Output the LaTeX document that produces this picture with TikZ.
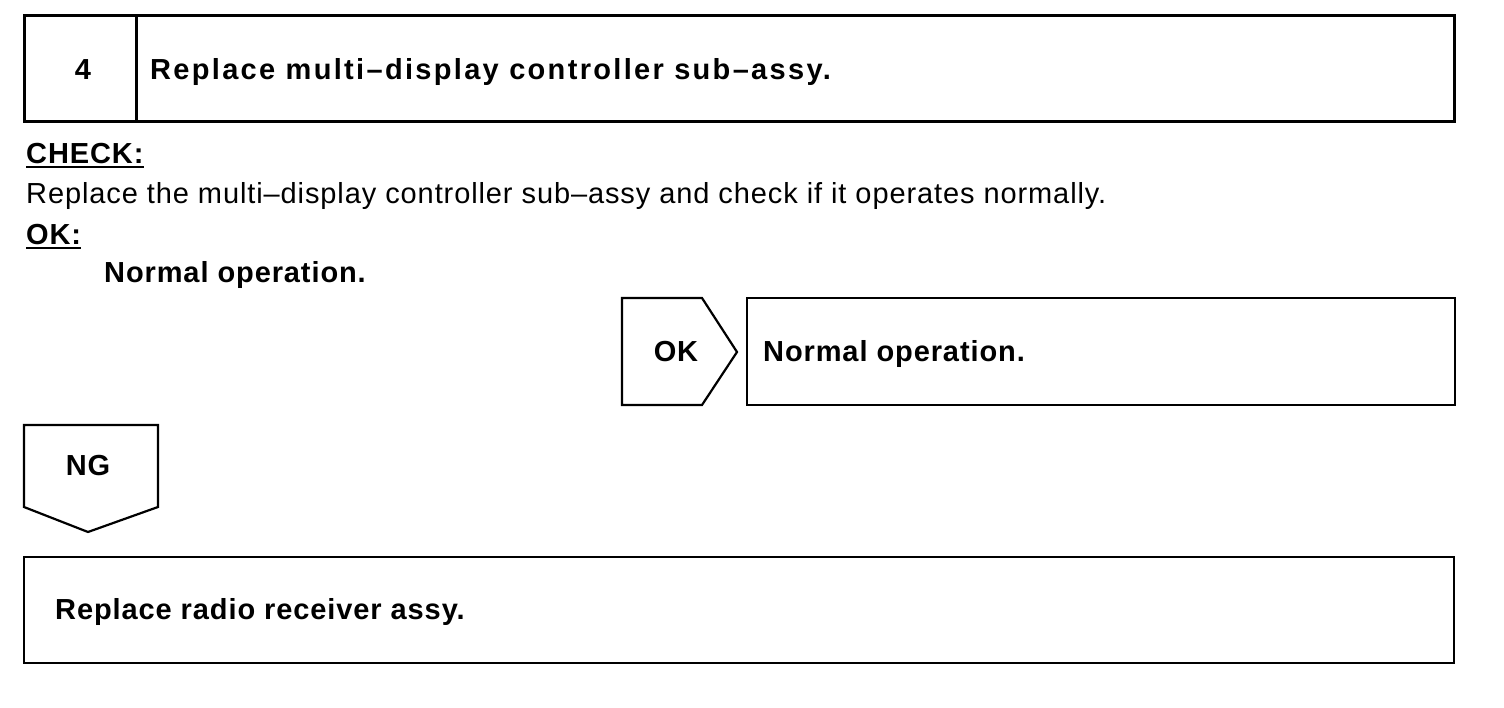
\documentclass[tikz,border=0pt]{standalone}
\usepackage{fontspec}
\setmainfont{Liberation Sans}[LetterSpace=3.1]
\newfontfamily\titlefont{Liberation Sans}[LetterSpace=8]

\begin{document}
\begin{tikzpicture}[x=1pt,y=-1pt,
  heavy/.style={line width=3pt},
  frame/.style={line width=2.2pt, line join=miter},
  head/.style={inner sep=0pt,anchor=base west,font=\fontsize{29}{32}\selectfont\bfseries},
  plain/.style={inner sep=0pt,anchor=base west,font=\fontsize{29}{32}\selectfont},
  tag/.style={inner sep=0pt,anchor=base,font=\fontsize{29}{32}\selectfont\bfseries},
  uline/.style={line width=2pt}]
\useasboundingbox (0,0) rectangle (1504,708);
% the step header
\draw[heavy] (24,16) rectangle (1454,122);
\draw[heavy] (136,16) -- (136,122);
\node[tag] (num) at (83,80) {4};
\node[head,font=\fontsize{29}{32}\titlefont\bfseries] (title) at (150,80) {Replace multi–display controller sub–assy.};
% the check and what is expected
\node[head] (chk) at (26,164) {CHECK:};
\draw[uline] ([yshift=-3pt]chk.base west) -- ([yshift=-3pt]chk.base east);
\node[plain] (what) at (26,204) {Replace the multi–display controller sub–assy and check if it operates normally.};
\node[head] (ok) at (26,245) {OK:};
\draw[uline] ([yshift=-3pt]ok.base west) -- ([yshift=-3pt]ok.base east);
\node[head] (okres) at (104,283) {Normal operation.};
% the OK branch
\draw[frame] (622,298) -- (702,298) -- (737,352) -- (702,405) -- (622,405) -- cycle;
\node[tag] (oktag) at (676,362) {OK};
\draw[frame] (747,298) rectangle (1455,405);
\node[head] (okstep) at (763,362) {Normal operation.};
% the NG branch
\draw[frame] (24,425) -- (158,425) -- (158,507) -- (88,532) -- (24,507) -- cycle;
\node[tag] (ngtag) at (88,475) {NG};
\draw[frame] (24,557) rectangle (1454,663);
\node[head] (ngstep) at (55,619) {Replace radio receiver assy.};
\end{tikzpicture}
\end{document}
